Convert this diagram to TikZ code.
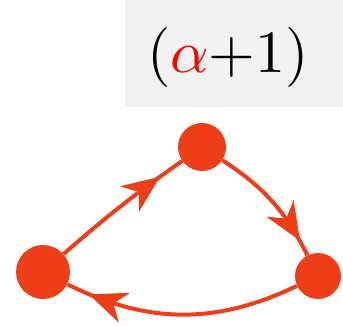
\documentclass[tikz,border=0pt]{standalone}
\usepackage{xcolor}
\usepackage{graphicx}
\usepackage{tikz}
\usetikzlibrary{shapes,arrows,positioning,decorations.markings}

\definecolor{inkred}{RGB}{238,62,24}
\definecolor{cardgray}{RGB}{242,242,242}

\tikzset{
  vertex/.style={circle,fill=inkred,inner sep=0pt,minimum size=48pt},
  arc/.style={draw=inkred,line width=4pt,
    postaction={decorate},
    decoration={markings,mark=at position #1 with {%
      \fill[inkred] (12pt,0) -- (-26pt,16pt) -- (-14pt,0) -- (-26pt,-16pt) -- cycle;}}},
}

\begin{document}
\begin{tikzpicture}[x=1pt,y=1pt]
\useasboundingbox (0,0) rectangle (343,325);
\fill[cardgray] (125,218) rectangle (343,325);
\node (label) at (228,268)
  {\scalebox{6.0}{$(\textcolor{red}{\alpha}{+}1)$}};

\node[vertex] (top) at (202,178) {};
\node[vertex,minimum size=54pt] (left) at (43,53) {};
\node[vertex,minimum size=46pt] (right) at (318,49) {};

\draw[arc=0.74] (left) to[bend left=3] (top);
\draw[arc=0.78] (top) to[bend left=15] (right);
\draw[arc=0.85] (right) to[bend left=26] (left);
\end{tikzpicture}
\end{document}
